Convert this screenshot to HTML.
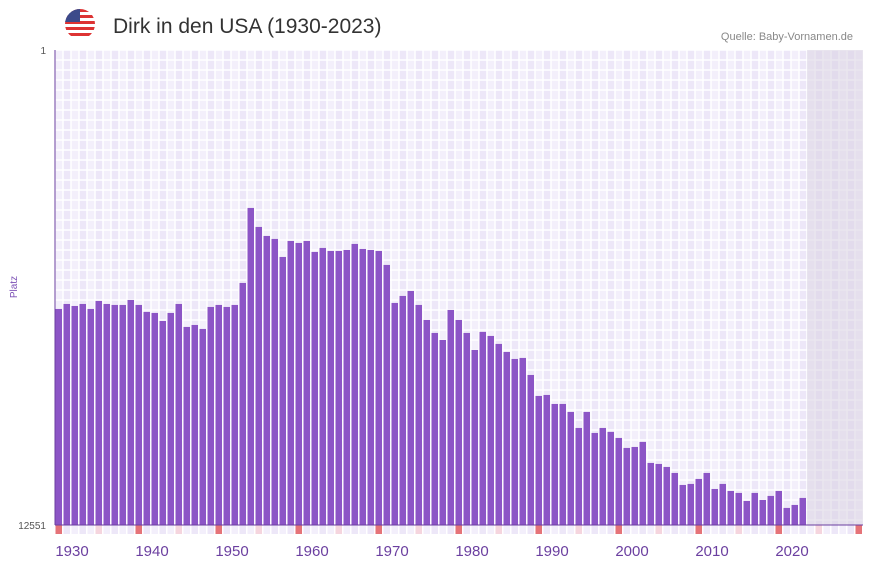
<!DOCTYPE html>
<html><head><meta charset="utf-8"><style>
body{margin:0;background:#fff;width:873px;height:567px;overflow:hidden;font-family:"Liberation Sans",sans-serif}
svg{display:block}
</style></head><body>
<svg id="c" width="873" height="567">
<g>
<clipPath id="fc"><circle cx="80" cy="24" r="15"/></clipPath>
<g clip-path="url(#fc)">
<rect x="65" y="9" width="30" height="30" fill="#fff"/>
<rect x="65" y="9" width="30" height="3" fill="#d33"/><rect x="65" y="15" width="30" height="3" fill="#d33"/>
<rect x="65" y="21" width="30" height="3" fill="#d33"/><rect x="65" y="27" width="30" height="3" fill="#d33"/>
<rect x="65" y="33" width="30" height="3" fill="#d33"/>
<rect x="65" y="9" width="15" height="13" fill="#3c4a8a"/>
</g></g>
<text x="113" y="33" font-size="21" fill="#333">Dirk in den USA (1930-2023)</text>
<text x="853" y="40" font-size="11" fill="#888" text-anchor="end">Quelle: Baby-Vornamen.de</text>
<text x="46" y="54" font-size="10" fill="#555" text-anchor="end">1</text>
<text x="46" y="529" font-size="10" fill="#555" text-anchor="end">12551</text>
<text x="17" y="287" font-size="10" fill="#7b4fb5" text-anchor="middle" transform="rotate(-90 17 287)">Platz</text>
<g id="plot"></g>
</svg>
<script>
const years=[];for(let y=1930;y<=2023;y++)years.push(y);
const ranks=[6843,6711,6764,6711,6843,6631,6711,6737,6737,6605,
6737,6922,6948,7160,6948,6711,7318,7266,7371,6790,
6737,6790,6737,6156,4174,4676,4914,4993,5469,5046,
5099,5046,5337,5231,5310,5310,5284,5125,5258,5284,
5310,5680,6684,6499,6367,6737,7133,7477,7662,6869,
7133,7477,7926,7450,7556,7767,7979,8164,8137,8587,
9141,9115,9353,9353,9564,9987,9564,10119,9987,10092,
10251,10515,10489,10357,10911,10938,11017,11176,11493,11466,
11334,11176,11599,11466,11651,11704,11915,11704,11889,11783,
11651,12100,12021,11836];
const tickYears=[1930,1940,1950,1960,1970,1980,1990,2000,2010,2020];
const minYear=1930,maxYear=2030,maxRank=12551;
const L=55,R=863,T=50,B=525;
const xs=y=>L+(y-minYear)*(R-L)/(maxYear-minYear+1);
const ys=r=>T+(r-1)*(B-T)/(maxRank-1);
const NS='http://www.w3.org/2000/svg';
const g=document.getElementById('plot');
function el(t,a){const e=document.createElementNS(NS,t);for(const k in a)e.setAttribute(k,a[k]);g.appendChild(e);return e;}
const bw=(R-L)/(maxYear-minYear+1);
for(let y=minYear;y<=maxYear;y++){
 const c=el('rect',{x:xs(y),y:T,width:bw,height:B-T,fill:(y%2?'#ede7f8':'#f3effb')});
 
 
}
for(let yy=T;yy<=B;yy+=10){const l=el('line',{x1:L,x2:R,y1:yy,y2:yy,stroke:'#fff','stroke-width':1.5});}
for(let y=minYear;y<=maxYear+1;y++){const l=el('line',{x1:xs(y),x2:xs(y),y1:T,y2:B,stroke:'#fff','stroke-width':1.5});}
const sh=el('rect',{x:xs(2024),y:T,width:R-xs(2024),height:B-T,fill:'#d8d2e2',opacity:0.55});


years.forEach((y,i)=>{
 const top=ys(ranks[i]);
 const b=el('rect',{x:xs(y)+0.5,y:top,width:bw-1.5,height:B-top,fill:'#8c55c6'});
 
 
});
for(let y=minYear;y<=maxYear;y++){
 const m=y%10===0?'#e57378':(y%5===0?'#f5d5de':(y%2?'#ede7f8':'#f3effb'));
 const r=el('rect',{x:xs(y)+0.5,y:B,width:bw-1.5,height:9,fill:m});
 
 
}
const ax=el('line',{x1:L,x2:L,y1:T,y2:B,stroke:'#6b3fa0','stroke-width':1});


const bx=el('line',{x1:L,x2:R,y1:B,y2:B,stroke:'#6b3fa0','stroke-width':1});


tickYears.forEach(y=>{
 const t=el('text',{x:xs(y)+17,y:556,'font-size':15,fill:'#6b3fa0','text-anchor':'middle'});
 t.textContent=y;
 
 
});
</script>
</body></html>
